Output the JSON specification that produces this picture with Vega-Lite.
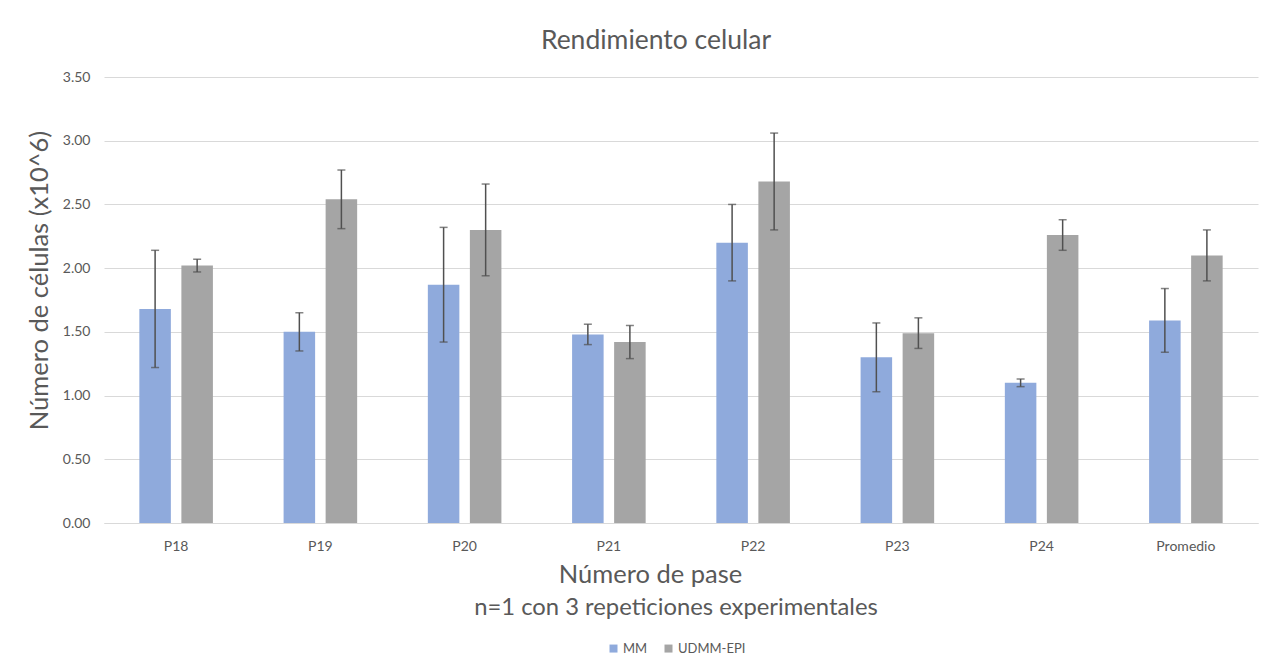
{
  "$schema": "https://vega.github.io/schema/vega-lite/v6.json",
  "width": 1154,
  "height": 446,
  "autosize": {"type": "pad"},
  "padding": {"left": 27, "top": 27, "right": 10, "bottom": 5},
  "background": "white",
  "config": {
    "font": "Lato",
    "view": {"stroke": null},
    "axis": {"labelFont": "Lato", "titleFont": "Lato", "labelColor": "#595959", "titleColor": "#595959", "titleFontWeight": "normal"}
  },
  "title": {"text": "Rendimiento celular", "fontSize": 26.5, "font": "Lato", "color": "#595959", "fontWeight": "normal", "dx": -25, "offset": 16},
  "data": {"values": [
    {"pase": "P18", "serie": "MM", "valor": 1.68, "lo": 1.22, "hi": 2.14},
    {"pase": "P18", "serie": "UDMM-EPI", "valor": 2.02, "lo": 1.97, "hi": 2.07},
    {"pase": "P19", "serie": "MM", "valor": 1.50, "lo": 1.35, "hi": 1.65},
    {"pase": "P19", "serie": "UDMM-EPI", "valor": 2.54, "lo": 2.31, "hi": 2.77},
    {"pase": "P20", "serie": "MM", "valor": 1.87, "lo": 1.42, "hi": 2.32},
    {"pase": "P20", "serie": "UDMM-EPI", "valor": 2.30, "lo": 1.94, "hi": 2.66},
    {"pase": "P21", "serie": "MM", "valor": 1.48, "lo": 1.40, "hi": 1.56},
    {"pase": "P21", "serie": "UDMM-EPI", "valor": 1.42, "lo": 1.29, "hi": 1.55},
    {"pase": "P22", "serie": "MM", "valor": 2.20, "lo": 1.90, "hi": 2.50},
    {"pase": "P22", "serie": "UDMM-EPI", "valor": 2.68, "lo": 2.30, "hi": 3.06},
    {"pase": "P23", "serie": "MM", "valor": 1.30, "lo": 1.03, "hi": 1.57},
    {"pase": "P23", "serie": "UDMM-EPI", "valor": 1.49, "lo": 1.37, "hi": 1.61},
    {"pase": "P24", "serie": "MM", "valor": 1.10, "lo": 1.07, "hi": 1.13},
    {"pase": "P24", "serie": "UDMM-EPI", "valor": 2.26, "lo": 2.14, "hi": 2.38},
    {"pase": "Promedio", "serie": "MM", "valor": 1.59, "lo": 1.34, "hi": 1.84},
    {"pase": "Promedio", "serie": "UDMM-EPI", "valor": 2.10, "lo": 1.90, "hi": 2.30}
  ]},
  "encoding": {
    "x": {
      "field": "pase", "type": "nominal",
      "sort": ["P18", "P19", "P20", "P21", "P22", "P23", "P24", "Promedio"],
      "scale": {"paddingInner": 0.49, "paddingOuter": 0.245},
      "axis": {"title": "Número de pase", "titleFontSize": 25.5, "titlePadding": 9, "labelAngle": 0, "labelFontSize": 14, "labelPadding": 16, "ticks": false, "domainColor": "#d9d9d9", "domainWidth": 1, "grid": false, "titleX": 546}
    },
    "xOffset": {"field": "serie", "type": "nominal", "sort": ["MM", "UDMM-EPI"], "scale": {"paddingInner": 0.25}}
  },
  "layer": [
    {
      "mark": {"type": "bar"},
      "encoding": {
        "y": {"field": "valor", "type": "quantitative", "title": "Número de células (x10^6)",
          "scale": {"domain": [0, 3.5]},
          "axis": {"values": [0, 0.5, 1, 1.5, 2, 2.5, 3, 3.5], "format": ".2f", "titleFontSize": 25.5, "labelFontSize": 14, "labelPadding": 14, "titlePadding": 10, "titleY": 203, "ticks": false, "domain": false, "gridColor": "#d9d9d9", "gridWidth": 1}},
        "color": {"field": "serie", "type": "nominal",
          "scale": {"domain": ["MM", "UDMM-EPI"], "range": ["#8faadc", "#a5a5a5"]},
          "legend": {"orient": "none", "legendX": 370, "legendY": 519, "direction": "horizontal", "title": "n=1 con 3 repeticiones experimentales", "titleLimit": 1000, "titleOrient": "top", "titleAnchor": "middle", "titleFontSize": 23.8, "titleColor": "#595959", "titleFontWeight": "normal", "titleFont": "Lato", "titlePadding": 22, "labelFont": "Lato", "labelFontSize": 13, "labelColor": "#595959", "symbolType": "square", "symbolSize": 64, "symbolStrokeWidth": 0, "columnPadding": 14, "labelOffset": 3}
        }
      }
    },
    {
      "mark": {"type": "rule", "color": "#505050", "strokeWidth": 1.5},
      "encoding": {
        "y": {"field": "lo", "type": "quantitative", "title": "Número de células (x10^6)"},
        "y2": {"field": "hi"}
      }
    },
    {
      "mark": {"type": "tick", "color": "#505050", "thickness": 1.5, "size": 8},
      "encoding": {"y": {"field": "lo", "type": "quantitative", "title": "Número de células (x10^6)"}}
    },
    {
      "mark": {"type": "tick", "color": "#505050", "thickness": 1.5, "size": 8},
      "encoding": {"y": {"field": "hi", "type": "quantitative", "title": "Número de células (x10^6)"}}
    }
  ]
}
